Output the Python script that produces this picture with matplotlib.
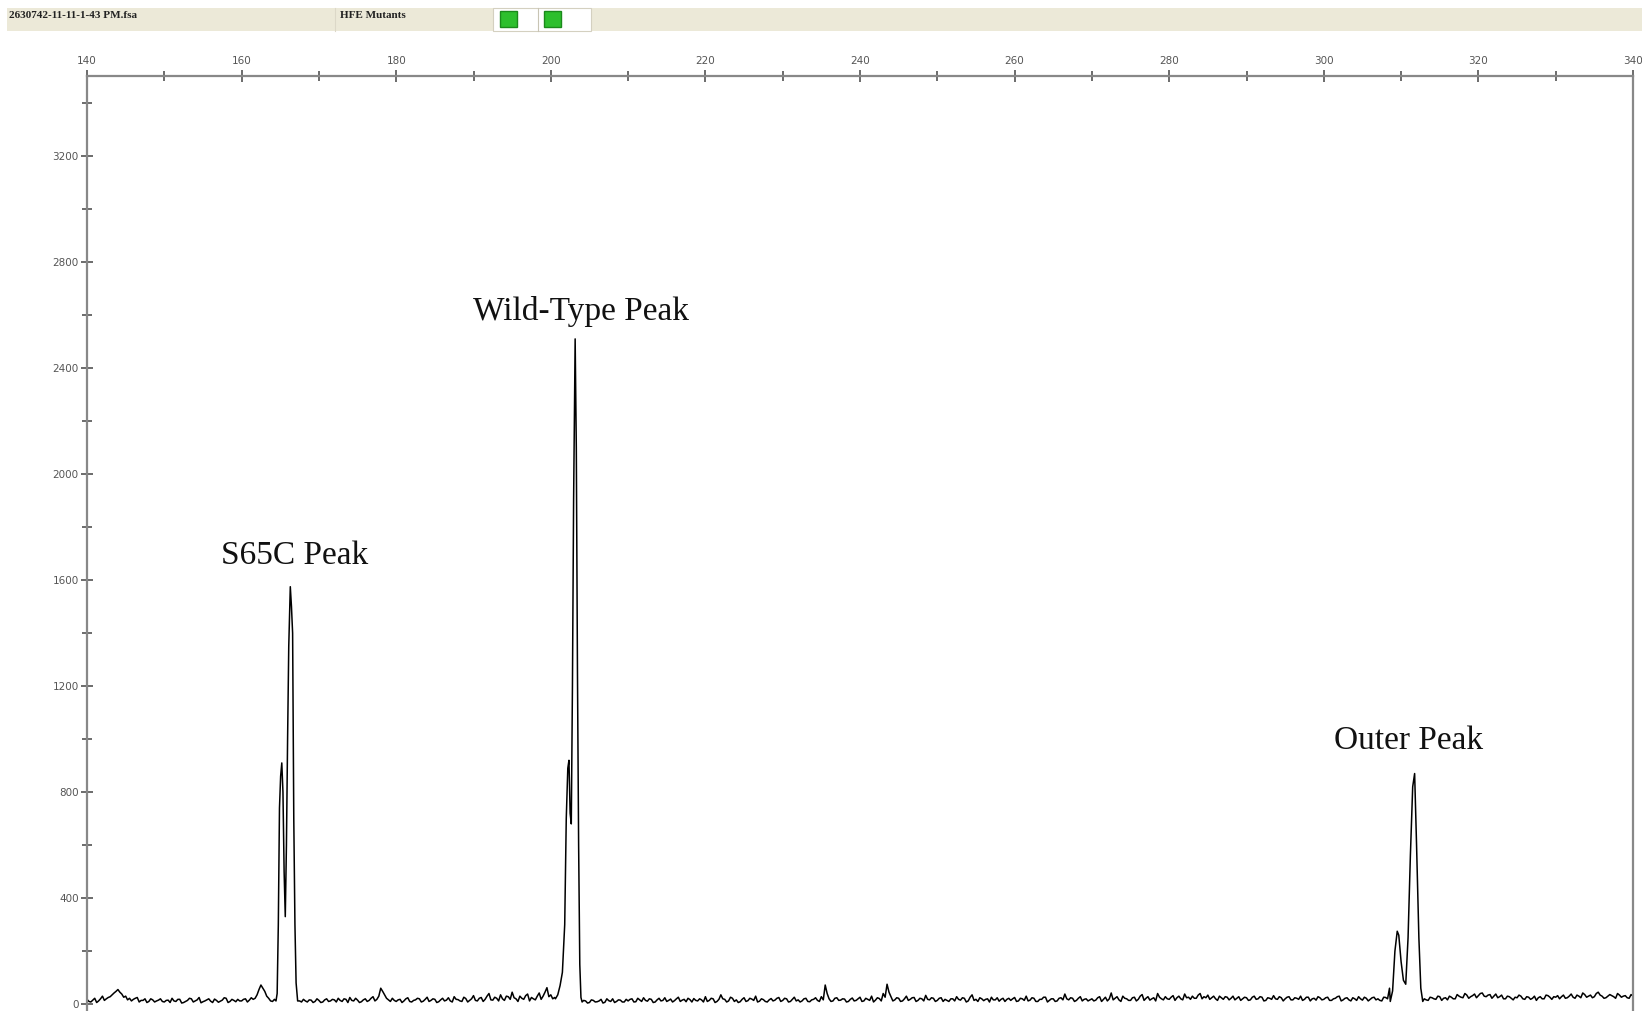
import numpy as np
import matplotlib
matplotlib.use("Agg")
import matplotlib.pyplot as plt
from matplotlib.patches import Rectangle
from matplotlib.ticker import MultipleLocator

BASE_START, BASE_STEP = 140, 0.5
BASELINE = [
    18, 8, 22, 12, 30, 20, 28, 42, 55, 38, 30, 22, 18, 25, 14, 20, 10, 16, 12, 20,   # 140
    8, 15, 22, 10, 18, 6, 14, 20, 12, 25, 9, 16, 11, 19, 7, 15, 22, 10, 14, 18,      # 150
    12, 20, 15, 18, 35, 72, 48, 22, 10, 14, 600, 500, 1500, 900, 60, 12, 18, 8, 15, 10,  # 160
    14, 8, 20, 12, 16, 22, 10, 18, 25, 12, 15, 9, 20, 14, 28, 18, 60, 35, 16, 22,    # 170
    10, 18, 12, 24, 8, 16, 20, 11, 26, 14, 18, 9, 22, 15, 12, 28, 17, 10, 21, 14,    # 180
    32, 12, 25, 18, 40, 15, 22, 35, 14, 28, 45, 20, 30, 18, 38, 25, 16, 42, 30, 62,  # 190
    35, 25, 60, 150, 800, 700, 2400, 700, 8, 12, 6, 14, 9, 18, 7, 13, 20, 10, 15, 8,  # 200
    12, 20, 9, 16, 24, 11, 18, 8, 22, 14, 10, 19, 13, 26, 15, 9, 17, 21, 12, 16,     # 210
    28, 14, 20, 10, 35, 18, 12, 22, 16, 9, 24, 13, 19, 30, 11, 17, 8, 21, 15, 25,    # 220
    14, 20, 10, 26, 16, 12, 22, 9, 18, 14, 28, 72, 20, 12, 24, 15, 19, 10, 23, 14,   # 230
    26, 12, 18, 30, 15, 21, 40, 75, 28, 16, 22, 12, 30, 18, 25, 14, 20, 33, 16, 22,  # 240
    14, 24, 18, 10, 20, 28, 15, 22, 12, 35, 18, 24, 13, 20, 26, 16, 11, 22, 18, 14,  # 250
    25, 12, 20, 30, 15, 22, 10, 18, 26, 14, 20, 12, 24, 38, 16, 22, 14, 28, 18, 12,  # 260
    20, 15, 28, 18, 12, 42, 22, 16, 30, 20, 14, 26, 18, 36, 22, 15, 24, 40, 20, 28,  # 270
    18, 32, 24, 20, 38, 26, 30, 22, 40, 28, 34, 24, 20, 30, 18, 26, 22, 16, 28, 20,  # 280
    24, 16, 30, 20, 26, 14, 22, 32, 18, 24, 20, 28, 16, 22, 30, 18, 26, 20, 15, 24,  # 290
    18, 26, 14, 22, 30, 16, 24, 12, 20, 28, 15, 22, 18, 26, 20, 12, 25, 60, 200, 270,  # 300
    150, 80, 400, 860, 300, 12, 20, 14, 24, 18, 28, 22, 16, 26, 20, 30, 24, 34, 28, 38,  # 310
    32, 42, 28, 36, 30, 24, 34, 20, 28, 16, 24, 30, 18, 26, 22, 14, 28, 20, 32, 18,  # 320
    26, 20, 34, 24, 38, 22, 30, 42, 26, 34, 28, 45, 30, 24, 36, 28, 40, 26, 32, 22,  # 330
    30,
]
# the in-between samples, at 140.25, 140.75, ... 339.75
BASELINE_MID = [
    10, 15, 6, 20, 14, 25, 35, 48, 45, 26, 16, 12, 22, 8, 14, 6, 20, 8, 15, 10,      # 140
    14, 6, 12, 18, 4, 10, 22, 8, 16, 5, 12, 20, 6, 14, 11, 24, 6, 18, 9, 12,         # 150
    18, 8, 24, 22, 55, 60, 30, 12, 18, 200, 700, 1200, 1400, 200, 20, 8, 12, 16, 6, 20,  # 160
    6, 16, 10, 18, 8, 14, 20, 6, 14, 22, 6, 16, 10, 22, 12, 30, 48, 22, 10, 14,      # 170
    16, 6, 20, 10, 14, 22, 8, 18, 10, 20, 6, 16, 12, 24, 8, 18, 12, 26, 8, 20,       # 180
    14, 22, 10, 30, 16, 26, 12, 20, 30, 18, 24, 10, 22, 32, 12, 20, 30, 18, 45, 28,  # 190
    20, 40, 100, 400, 800, 1800, 1500, 100, 14, 4, 16, 8, 12, 4, 20, 10, 6, 16, 8, 18,  # 200
    18, 8, 22, 10, 14, 20, 6, 16, 12, 24, 14, 8, 20, 10, 18, 22, 8, 14, 20, 8,       # 210
    10, 22, 6, 18, 20, 8, 26, 10, 6, 18, 10, 22, 14, 8, 20, 10, 16, 12, 22, 10,      # 220
    22, 8, 18, 12, 8, 20, 10, 16, 24, 10, 16, 40, 10, 22, 14, 20, 8, 18, 12, 20,     # 230
    10, 22, 14, 8, 24, 12, 26, 45, 12, 24, 10, 20, 14, 24, 10, 22, 12, 18, 24, 10,   # 240
    22, 10, 14, 20, 12, 18, 24, 8, 26, 14, 10, 20, 18, 8, 16, 24, 18, 10, 22, 20,    # 250
    10, 22, 14, 12, 24, 10, 18, 26, 8, 20, 10, 22, 16, 20, 24, 10, 22, 12, 20, 16,   # 260
    12, 24, 10, 26, 20, 16, 28, 10, 22, 14, 24, 12, 30, 14, 28, 20, 12, 26, 16, 20,  # 270
    26, 14, 30, 16, 24, 18, 22, 34, 20, 24, 18, 30, 14, 24, 28, 16, 30, 22, 14, 26,  # 280
    14, 26, 18, 28, 12, 24, 18, 20, 28, 12, 26, 16, 24, 18, 14, 26, 12, 22, 28, 16,  # 290
    24, 14, 20, 28, 12, 22, 16, 24, 14, 20, 26, 12, 24, 16, 14, 26, 20, 30, 150, 250,  # 300
    120, 200, 700, 800, 100, 30, 16, 26, 20, 30, 14, 24, 30, 20, 36, 26, 40, 22, 32, 24,  # 310
    40, 30, 34, 22, 38, 28, 20, 30, 22, 26, 34, 20, 28, 18, 30, 24, 20, 34, 26, 28,  # 320
    32, 28, 22, 30, 26, 34, 24, 36, 30, 24, 40, 34, 22, 30, 32, 22, 34, 30, 24, 36,  # 330
]

# the three labelled peak clusters, finer vertices
S65C_X = [164.45, 164.6, 164.75, 164.9, 165.05, 165.2, 165.35, 165.5, 165.65, 165.8, 165.95, 166.1,
          166.3, 166.45, 166.6, 166.75, 166.9, 167.05, 167.25]
S65C_Y = [12, 40, 300, 740, 860, 910, 800, 500, 330, 600, 1000, 1350, 1575, 1500, 1400, 700, 300, 80, 12]
WT_X = [200.6, 200.9, 201.2, 201.5, 201.8, 202.0, 202.2, 202.35, 202.5, 202.65, 202.8, 202.95, 203.15,
        203.3, 203.45, 203.6, 203.75, 203.9, 204.05]
WT_Y = [20, 35, 70, 120, 300, 700, 890, 920, 720, 680, 1200, 1900, 2510, 2100, 1250, 600, 150, 25, 8]
OUTER_X = [308.6, 308.9, 309.2, 309.5, 309.7, 310.0, 310.3, 310.6, 310.9, 311.2, 311.5, 311.75, 312.0,
           312.3, 312.55, 312.8]
OUTER_Y = [10, 50, 200, 275, 260, 160, 90, 75, 250, 560, 820, 870, 600, 250, 60, 10]

LABELS = ["S65C Peak", "Wild-Type Peak", "Outer Peak"]
LABEL_X = [166.9, 203.9, 311.0]
LABEL_Y = [1690, 2615, 995]

FILE_NAME = "2630742-11-11-1-43 PM.fsa"
PANEL_NAME = "HFE Mutants"

# merge baseline samples with the peak vertices
bx = np.concatenate([BASE_START + BASE_STEP * np.arange(len(BASELINE)),
                     BASE_START + BASE_STEP / 2 + BASE_STEP * np.arange(len(BASELINE_MID))])
by = np.array(BASELINE + BASELINE_MID, dtype=float)
keep = np.ones(len(bx), bool)
px, py = [], []
for xs, ys in [(S65C_X, S65C_Y), (WT_X, WT_Y), (OUTER_X, OUTER_Y)]:
    keep &= ~((bx >= xs[0]) & (bx <= xs[-1]))
    px += xs; py += ys
tx = np.concatenate([bx[keep], px])
ty = np.concatenate([by[keep], py])
order = np.argsort(tx)
tx, ty = tx[order], ty[order]

fig = plt.figure(figsize=(16.42, 10.11), dpi=100)

# header strip
fig.patches.append(Rectangle((7 / 1642, 1 - 31 / 1011), 1, 23 / 1011, transform=fig.transFigure,
                             facecolor="#ece9d8", edgecolor="none"))
fig.patches.append(Rectangle((493 / 1642, 1 - 31 / 1011), 98 / 1642, 23 / 1011, transform=fig.transFigure,
                             facecolor="white", edgecolor="#d4d0c0", lw=0.8))
for gx in [500, 544]:
    fig.patches.append(Rectangle((gx / 1642, 1 - 27 / 1011), 17 / 1642, 16 / 1011, transform=fig.transFigure,
                                 facecolor="#2dbf2d", edgecolor="#1b8a1b", lw=1))
fig.add_artist(plt.Line2D([538 / 1642] * 2, [1 - 31 / 1011, 1 - 8 / 1011], transform=fig.transFigure,
                          color="#c8c4b4", lw=0.8))
fig.add_artist(plt.Line2D([335 / 1642] * 2, [1 - 31 / 1011, 1 - 8 / 1011], transform=fig.transFigure,
                          color="#dcd8c8", lw=0.8))
fig.text(9 / 1642, 1 - 15 / 1011, FILE_NAME, fontsize=8, fontweight="bold", family="Liberation Serif",
         ha="left", va="center", color="#222")
fig.text(340 / 1642, 1 - 15 / 1011, PANEL_NAME, fontsize=8, fontweight="bold", family="Liberation Serif",
         ha="left", va="center", color="#222")

ax = fig.add_axes([87 / 1642, 0, (1633 - 87) / 1642, 1 - 76 / 1011])
ax.plot(tx, ty, color="black", lw=1.1)
ax.set_xlim(140, 340)
ax.set_ylim(-26, 3502)

ax.xaxis.tick_top()
ax.xaxis.set_major_locator(MultipleLocator(20))
ax.xaxis.set_minor_locator(MultipleLocator(10))
ax.yaxis.set_major_locator(MultipleLocator(400))
ax.yaxis.set_minor_locator(MultipleLocator(200))
ax.tick_params(which="both", direction="inout", colors="#444", labelsize=7.5, width=1.1)
ax.tick_params(which="major", length=8)
ax.tick_params(which="minor", length=7)
ax.tick_params(axis="x", pad=3)
ax.tick_params(axis="y", pad=2)
for lab in ax.get_xticklabels() + ax.get_yticklabels():
    lab.set_color("#555")

ax.spines["bottom"].set_visible(False)
for s in ["top", "left", "right"]:
    ax.spines[s].set_color("#888")
    ax.spines[s].set_linewidth(1.6)

for lab, x, y in zip(LABELS, LABEL_X, LABEL_Y):
    ax.text(x, y, lab, fontsize=24, family="Liberation Serif", ha="center", va="center", color="#111")

fig.savefig("out.png", dpi=100)
